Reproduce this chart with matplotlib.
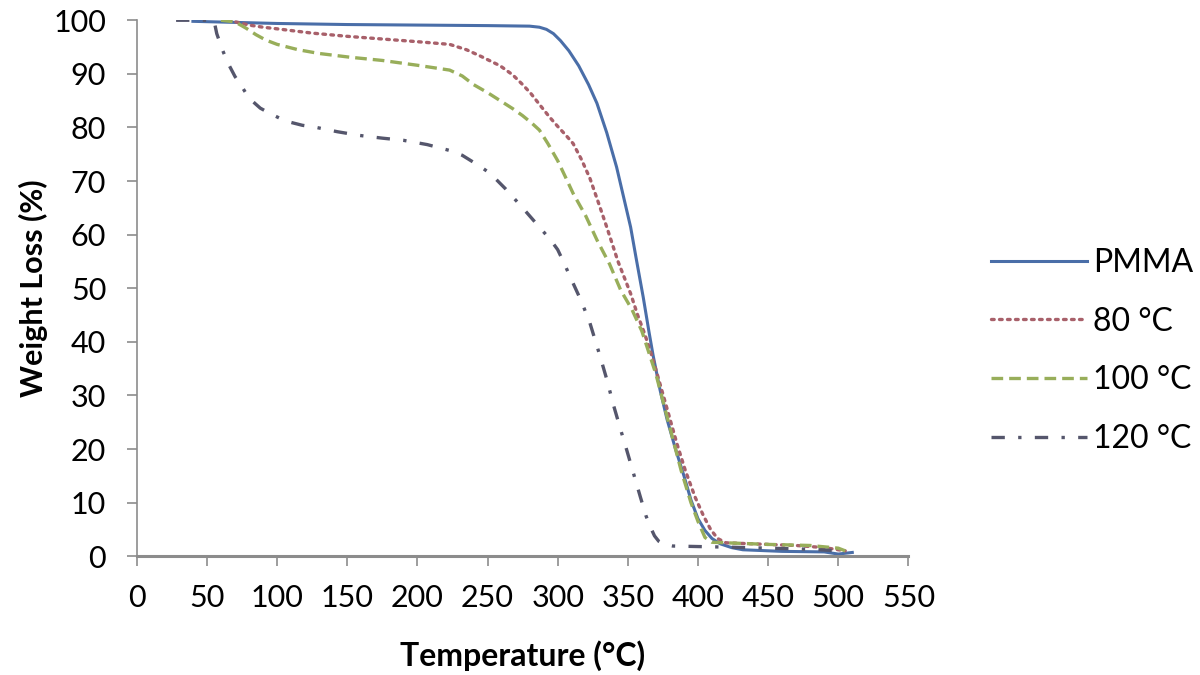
import numpy as np
import matplotlib.pyplot as plt

plt.rcParams['font.family'] = ['Lato', 'DejaVu Sans']

# TGA curves (temperature in deg C, weight in %)
pmma_t = [40, 100, 150, 200, 250, 280, 287, 292, 297, 302, 308, 315, 322, 328,
          335, 342, 347, 352, 356, 361, 365, 368, 373, 378, 384, 390, 395, 400,
          405, 410, 416, 424, 432, 460, 490, 500, 510]
pmma_w = [99.8, 99.4, 99.2, 99.1, 99.0, 98.9, 98.7, 98.3, 97.5, 96.2, 94.3, 91.5,
          88, 84.5, 79, 72.6, 67, 61.4, 55.5, 48.3, 42, 37.5, 31, 25.5, 20, 15,
          10.5, 7, 4.8, 3.3, 2.3, 1.6, 1.2, 0.9, 0.8, 0.4, 0.7]

t80 = [65, 72, 80, 90, 100, 125, 150, 175, 200, 223, 235, 245, 259, 268, 275,
       281, 287, 294, 300, 306, 311, 317, 323, 329, 335, 343, 352, 357, 362, 367,
       372, 378, 385, 391, 398, 404, 409, 414, 420, 440, 470, 490, 505]
w80 = [100, 99.6, 99.1, 98.7, 98.4, 97.6, 97, 96.5, 96, 95.5, 94.5, 93.3, 91.5,
       89.8, 88, 86.3, 84.3, 82, 80.2, 78.5, 77, 74, 70.5, 66, 61.4, 55, 49, 45,
       41.5, 37.5, 33, 27.5, 21, 16, 11, 7.5, 5, 3.3, 2.5, 2.3, 2, 1.6, 1]

t100 = [60, 70, 78, 85, 92, 100, 115, 130, 152, 175, 200, 223, 232, 240, 250,
        259, 268, 275, 282, 287, 293, 300, 306, 311, 320, 328, 337, 345, 353, 360,
        365, 370, 376, 382, 388, 395, 400, 405, 410, 420, 450, 480, 500, 505]
w100 = [100, 99.7, 98.5, 97.3, 96.3, 95.5, 94.5, 93.8, 93.1, 92.5, 91.6, 90.7,
        89.6, 88, 86.5, 85, 83.5, 82.2, 80.7, 79.5, 77, 73.8, 70.5, 67.7, 63.5, 59,
        54.5, 49.6, 46, 42, 38, 34, 28, 22, 16, 10, 6.5, 3.5, 2.6, 2.5, 2.2, 2,
        1.5, 1]

t120 = [28, 55, 57, 61, 65, 70, 74, 78, 82, 88, 95, 102, 109, 118, 128, 143, 159,
        175, 190, 207, 223, 232, 240, 246, 252, 263, 275, 285, 295, 300, 304, 310,
        317, 323, 330, 335, 340, 345, 349, 354, 359, 363, 366, 369, 372, 376, 382,
        400, 420, 450, 480, 500]
w120 = [100, 100, 97.5, 94.5, 92, 89.5, 88, 86.3, 85, 83.6, 82.6, 81.7, 81, 80.4,
        80, 79.2, 78.5, 78, 77.6, 76.8, 75.7, 74.8, 73.5, 72.5, 71.4, 68.5, 65, 62,
        59, 57.2, 55, 51.5, 47.5, 43.5, 37.5, 33, 28, 23.5, 20, 15.5, 11, 7.5, 5.5,
        3.8, 2.8, 2.2, 1.9, 1.8, 1.7, 1.5, 1.3, 1]

labels = ['PMMA', '80 °C', '100 °C', '120 °C']
xticks = np.arange(0, 551, 50)
yticks = np.arange(0, 101, 10)

fig = plt.figure(figsize=(12, 6.75), dpi=100)
ax = fig.add_axes([0.114, 0.176, 0.643, 0.794])

ax.plot(pmma_t, pmma_w, color='#4a6ea8', lw=2.2, label=labels[0])
ax.plot(t80, w80, color='#a8606a', lw=2.4, linestyle=(0, (0.8, 1.6)),
        dash_capstyle='round', label=labels[1])
ax.plot(t100, w100, color='#98ae5a', lw=2.4, linestyle=(0, (3.5, 1.8)),
        label=labels[2])
ax.plot(t120, w120, color='#55566c', lw=2.4, linestyle=(0, (4, 4, 1, 4)),
        label=labels[3])

ax.set_xlim(0, 550)
ax.set_ylim(0, 100)
ax.set_xticks(xticks)
ax.set_yticks(yticks)
ax.tick_params(labelsize=22, length=7, width=1.2, color='#8c8c8c')
ax.tick_params(axis='y', pad=15)
ax.tick_params(axis='x', pad=13)
for s in ['top', 'right']:
    ax.spines[s].set_visible(False)
ax.spines['left'].set_color('#8c8c8c')
ax.spines['left'].set_linewidth(1.2)
ax.spines['bottom'].set_color('#8c8c8c')
ax.spines['bottom'].set_linewidth(2.2)

ax.set_xlabel('Temperature (°C)', fontsize=23, fontweight='bold', labelpad=20)
ax.set_ylabel('Weight Loss (%)', fontsize=22, fontweight='bold', labelpad=4)

fig.legend(loc='center left', bbox_to_anchor=(0.826, 0.48), frameon=False,
           fontsize=23, handlelength=3.0, handletextpad=0.2, labelspacing=0.9,
           borderpad=0, borderaxespad=0)

plt.savefig('out.png', dpi=100)
